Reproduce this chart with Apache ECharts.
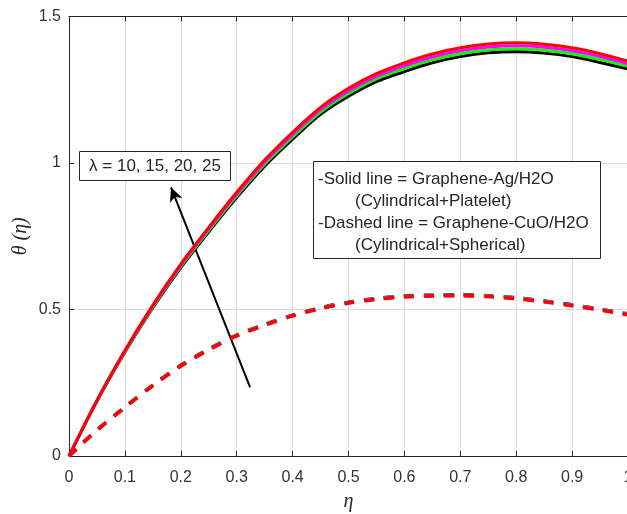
<!DOCTYPE html>
<html>
<head>
<meta charset="utf-8">
<script src="https://cdn.jsdelivr.net/npm/echarts@6/dist/echarts.min.js"></script>
<style>
html,body{margin:0;padding:0;background:#fff;}
#chart{width:627px;height:514px;}
</style>
</head>
<body>
<div id="chart"></div>
<script>
// eta positions
var eta = [0,0.05,0.1,0.15,0.2,0.25,0.3,0.35,0.4,0.45,0.5,0.55,0.6,0.65,0.7,0.75,0.8,0.85,0.9,0.95,1.0];
// Solid lines: Graphene-Ag/H2O (Cylindrical+Platelet)
var solid10 = [0,0.187,0.354,0.506,0.643,0.765,0.882,0.989,1.081,1.166,1.228,1.278,1.312,1.342,1.363,1.376,1.38,1.375,1.363,1.343,1.321];
var solid15 = [0,0.188,0.356,0.509,0.647,0.77,0.888,0.996,1.089,1.174,1.237,1.287,1.322,1.352,1.373,1.386,1.39,1.385,1.373,1.353,1.33];
var solid20 = [0,0.189,0.358,0.512,0.651,0.775,0.894,1.003,1.097,1.182,1.246,1.296,1.332,1.362,1.383,1.396,1.40,1.395,1.383,1.363,1.339];
var solid25 = [0,0.19,0.36,0.515,0.655,0.78,0.9,1.01,1.105,1.19,1.255,1.305,1.342,1.372,1.393,1.406,1.41,1.405,1.393,1.373,1.348];
// Dashed lines: Graphene-CuO/H2O (Cylindrical+Spherical)
var dashed10 = [0,0.089,0.167,0.242,0.31,0.365,0.413,0.449,0.481,0.506,0.525,0.538,0.546,0.549,0.55,0.547,0.54,0.529,0.516,0.501,0.485];
var dashed15 = [0,0.089,0.167,0.241,0.309,0.364,0.412,0.448,0.48,0.505,0.524,0.537,0.545,0.548,0.549,0.546,0.539,0.528,0.515,0.5,0.484];
var dashed20 = [0,0.088,0.166,0.24,0.308,0.363,0.411,0.447,0.479,0.504,0.523,0.536,0.544,0.547,0.548,0.545,0.538,0.527,0.514,0.499,0.483];
var dashed25 = [0,0.088,0.166,0.24,0.307,0.362,0.41,0.446,0.478,0.503,0.522,0.535,0.543,0.546,0.547,0.544,0.537,0.526,0.513,0.498,0.482];
var lambdas = [10,15,20,25];
var colors = ['#000000','#00ff00','#ff00ff','#ff0000'];
var solidSets = [solid10, solid15, solid20, solid25];
var dashedSets = [dashed10, dashed15, dashed20, dashed25];
// arrow annotation (data coords): tail -> head
var arrowTail = [0.324, 0.234];
var arrowHead = [0.1825, 0.917];
var lambdaText = 'λ = 10, 15, 20, 25';
var noteLines = ['-Solid line = Graphene-Ag/H2O', '(Cylindrical+Platelet)', '-Dashed line = Graphene-CuO/H2O', '(Cylindrical+Spherical)'];

function pairs(ys){ return eta.map(function(x,i){ return [x, ys[i]]; }); }

var FONT = '"Liberation Sans", Arial, sans-serif';
var AX = '#262626';
var series = [];
dashedSets.forEach(function(d,i){
  series.push({
    name: 'dashed λ=' + lambdas[i], type: 'line', data: pairs(d), smooth: 0.3,
    symbol: 'none', lineStyle: {color: colors[i], width: 3.5, type: [10,10]}, z: 2 + i
  });
});
solidSets.forEach(function(d,i){
  series.push({
    name: 'solid λ=' + lambdas[i], type: 'line', data: pairs(d), smooth: 0.3,
    symbol: 'none', lineStyle: {color: colors[i], width: 3}, z: 6 + i
  });
});
series.push({
  type: 'line', data: [], silent: true,
  markLine: {
    silent: true, symbol: ['none','arrow'], symbolSize: [10,14],
    label: {show: false},
    lineStyle: {color: '#000', width: 2, type: 'solid'},
    data: [[{coord: arrowTail}, {coord: arrowHead}]]
  }, z: 20
});

var chart = echarts.init(document.getElementById('chart'), null, {renderer: 'canvas'});
chart.setOption({
  animation: false,
  backgroundColor: '#fff',
  grid: {left: 69, top: 16.5, width: 559, height: 439.5, containLabel: false, outerBoundsMode: 'none'},
  xAxis: [{
    type: 'value', min: 0, max: 1, interval: 0.1,
    name: 'η', nameLocation: 'middle', nameGap: 36, nameMoveOverlap: false,
    nameTextStyle: {fontFamily: '"Liberation Serif", serif', fontStyle: 'italic', fontSize: 20, color: AX},
    axisLine: {show: true, lineStyle: {color: AX, width: 1}},
    axisTick: {show: true, inside: true, length: 5, lineStyle: {color: AX}},
    axisLabel: {color: '#333', fontSize: 16, fontFamily: FONT, margin: 14, showMaxLabel: true, hideOverlap: false},
    splitLine: {show: true, lineStyle: {color: '#dcdcdc', width: 1}}
  },{
    type: 'value', min: 0, max: 1, interval: 0.1, position: 'top',
    axisLine: {show: true, lineStyle: {color: AX, width: 1}},
    axisTick: {show: true, inside: true, length: 5, lineStyle: {color: AX}},
    axisLabel: {show: false}, splitLine: {show: false}
  }],
  yAxis: {
    type: 'value', min: 0, max: 1.5, interval: 0.5,
    name: 'θ (η)', nameLocation: 'middle', nameGap: 38, nameRotate: 90, nameMoveOverlap: false,
    nameTextStyle: {fontFamily: '"Liberation Serif", serif', fontStyle: 'italic', fontSize: 20, color: AX},
    axisLine: {show: true, lineStyle: {color: AX, width: 1}},
    axisTick: {show: true, inside: true, length: 5, lineStyle: {color: AX}},
    axisLabel: {color: '#333', fontSize: 16, fontFamily: FONT, margin: 8},
    splitLine: {show: true, lineStyle: {color: '#dcdcdc', width: 1}}
  },
  series: series,
  graphic: [
    {type: 'rect', shape: {x: 79.5, y: 151.5, width: 151, height: 29}, style: {fill: '#fff', stroke: AX, lineWidth: 1}, z: 100},
    {type: 'text', x: 155, y: 166, style: {text: lambdaText, font: '17px ' + FONT, fill: AX, align: 'center', verticalAlign: 'middle'}, z: 101},
    {type: 'rect', shape: {x: 313.5, y: 161.5, width: 287, height: 97}, style: {fill: '#fff', stroke: AX, lineWidth: 1}, z: 100},
    {type: 'text', x: 318, y: 179, style: {text: noteLines[0], font: '17px ' + FONT, fill: AX, verticalAlign: 'middle'}, z: 101},
    {type: 'text', x: 355, y: 201, style: {text: noteLines[1], font: '17px ' + FONT, fill: AX, verticalAlign: 'middle'}, z: 101},
    {type: 'text', x: 318, y: 223, style: {text: noteLines[2], font: '17px ' + FONT, fill: AX, verticalAlign: 'middle'}, z: 101},
    {type: 'text', x: 355, y: 245, style: {text: noteLines[3], font: '17px ' + FONT, fill: AX, verticalAlign: 'middle'}, z: 101}
  ]
});
</script>
</body>
</html>
